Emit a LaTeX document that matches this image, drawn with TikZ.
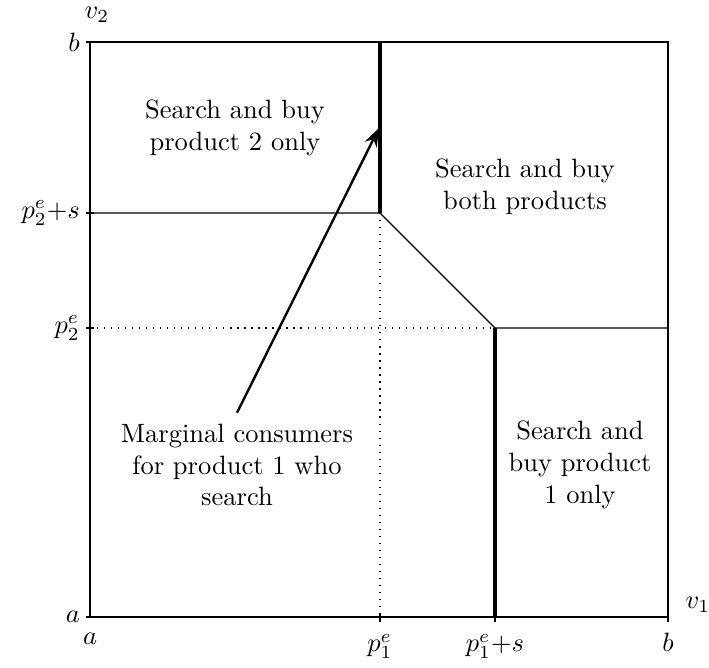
\documentclass[tikz,border=0pt]{standalone}
\usetikzlibrary{arrows.meta}
\begin{document}
\begin{tikzpicture}[x=0.01328cm,y=-0.01328cm,
  thinline/.style={line width=0.45pt},
  boldline/.style={line width=1.3pt},
  guide/.style={line width=0.45pt,dash pattern=on 0.45pt off 2.2pt},
  tick/.style={line width=0.45pt},
  lab/.style={inner sep=1pt},
  region/.style={align=center,inner sep=1pt}]
\useasboundingbox (0,0) rectangle (709,667);
% corner and breakpoint coordinates
\coordinate (O) at (90,617);
\coordinate (TL) at (90,42);
\coordinate (TR) at (668,42);
\coordinate (BR) at (668,617);
\coordinate (L1) at (90,213);
\coordinate (L2) at (90,328);
\coordinate (K1) at (380,213);
\coordinate (K2) at (495,328);
\coordinate (T1) at (380,42);
\coordinate (R2) at (668,328);
\coordinate (B1) at (380,617);
\coordinate (B2) at (495,617);
% frame
\draw[thinline] (TL) -- (O) -- (BR) -- (TR) -- (TL);
% ticks
\foreach \p in {TL,L1,L2,O} \draw[tick] (\p) ++(-4,0) -- ++(8,0);
\foreach \p in {B1,B2,BR} \draw[tick] (\p) ++(0,-4) -- ++(0,9);
% guide lines
\draw[guide] (L2) -- (K2);
\draw[guide] (K1) -- (B1);
% region boundaries
\draw[thinline] (L1) -- (K1) -- (K2) -- (R2);
\draw[boldline] (T1) -- (K1);
\draw[boldline] (K2) -- (B2);
% axis labels
\node[lab] (v2) at (97,15) {$v_2$};
\node[lab] (v1) at (698,605) {$v_1$};
\node[lab,anchor=east] (yb) at (83,42) {$b$};
\node[lab,anchor=east] (ys) at (83,213) {$p_2^e{+}s$};
\node[lab,anchor=east] (ye) at (83,328) {$p_2^e$};
\node[lab,anchor=east] (ya) at (83,617) {$a$};
\node[lab,anchor=north] (xa) at (90,630) {$a$};
\node[lab,anchor=north] (xe) at (380,631) {$p_1^e$};
\node[lab,anchor=north] (xs) at (495,631) {$p_1^e{+}s$};
\node[lab,anchor=north] (xb) at (668,630) {$b$};
% region labels
\node[region] (r2) at (235,128) {Search and buy\\product 2 only};
\node[region] (rb) at (525,187) {Search and buy\\both products};
\node[region] (mc) at (237,465) {Marginal consumers\\for product 1 who\\search};
\node[region] (r1) at (580,465) {Search and\\buy product\\1 only};
% arrow to the marginal segment
\coordinate (tip) at (379,128);
\draw[line width=0.9pt,-{Stealth[length=7pt,width=5pt]}] (mc.north) ++(0,-8) -- (tip);
\end{tikzpicture}
\end{document}
